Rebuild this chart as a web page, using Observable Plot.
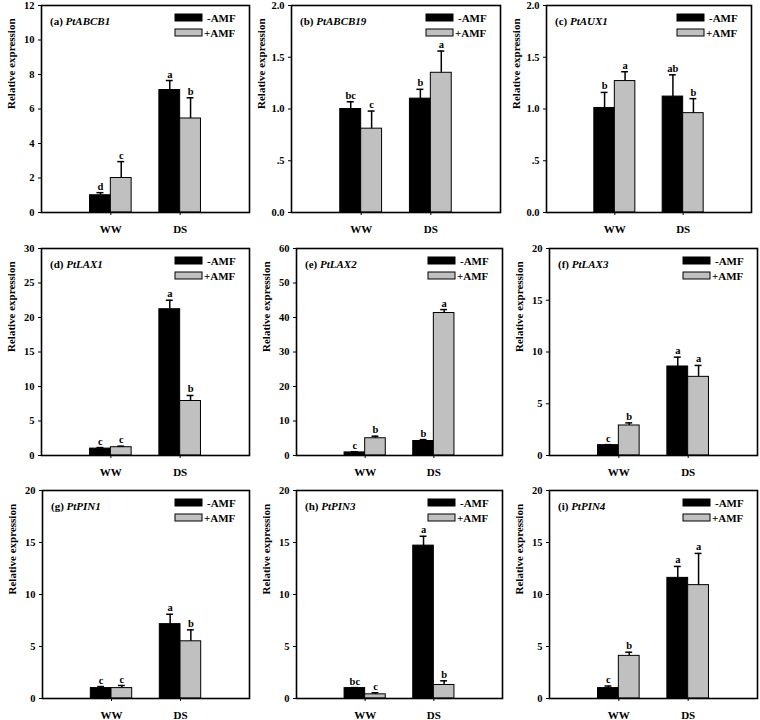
<!DOCTYPE html>
<html>
<head>
<meta charset="utf-8">
<script src="https://cdn.jsdelivr.net/npm/d3@7"></script>
<script src="https://cdn.jsdelivr.net/npm/@observablehq/plot@0.6"></script>
<style>
  body { margin: 0; background: white; }
  #chart { position: relative; width: 760px; height: 720px; background: white; overflow: hidden; }
  #chart svg { position: absolute; }
</style>
</head>
<body>
<div id="chart"></div>
<script>
// ---------------- data ----------------
const panelIds = ["(a)", "(b)", "(c)", "(d)", "(e)", "(f)", "(g)", "(h)", "(i)"];
const genes = ["PtABCB1", "PtABCB19", "PtAUX1", "PtLAX1", "PtLAX2", "PtLAX3", "PtPIN1", "PtPIN3", "PtPIN4"];
const groups = ["WW", "DS"];
const series = ["-AMF", "+AMF"];
const yLabel = "Relative expression";
const yMax = [12, 2, 2, 30, 60, 20, 20, 20, 20];
const yTicks = [
  [0, 2, 4, 6, 8, 10, 12],
  [0, 0.5, 1, 1.5, 2],
  [0, 0.5, 1, 1.5, 2],
  [0, 5, 10, 15, 20, 25, 30],
  [0, 10, 20, 30, 40, 50, 60],
  [0, 5, 10, 15, 20],
  [0, 5, 10, 15, 20],
  [0, 5, 10, 15, 20],
  [0, 5, 10, 15, 20]
];
const yTickLabels = [
  ["0", "2", "4", "6", "8", "10", "12"],
  ["0.0", ".5", "1.0", "1.5", "2.0"],
  ["0.0", ".5", "1.0", "1.5", "2.0"],
  ["0", "5", "10", "15", "20", "25", "30"],
  ["0", "10", "20", "30", "40", "50", "60"],
  ["0", "5", "10", "15", "20"],
  ["0", "5", "10", "15", "20"],
  ["0", "5", "10", "15", "20"],
  ["0", "5", "10", "15", "20"]
];
// means per gene: [WW, DS]
const meanMinusAMF = [[1.0, 7.1], [1.0, 1.10], [1.01, 1.12], [1.0, 21.2], [0.9, 4.2], [1.0, 8.6], [1.0, 7.15], [1.0, 14.7], [1.0, 11.6]];
const meanPlusAMF  = [[2.0, 5.45], [0.81, 1.35], [1.27, 0.96], [1.2, 7.9], [5.0, 41.3], [2.9, 7.6], [1.0, 5.5], [0.4, 1.3], [4.1, 10.9]];
// error (SD) per gene: [WW, DS]
const errMinusAMF = [[0.15, 0.55], [0.07, 0.09], [0.15, 0.21], [0.15, 1.3], [0.2, 0.4], [0.05, 0.9], [0.15, 0.95], [0.05, 0.9], [0.2, 1.1]];
const errPlusAMF  = [[0.95, 1.2], [0.17, 0.21], [0.09, 0.14], [0.15, 0.8], [0.6, 1.0], [0.25, 1.1], [0.25, 1.1], [0.15, 0.4], [0.35, 3.05]];
// significance letters per gene: [WW, DS]
const letterMinusAMF = [["d", "a"], ["bc", "b"], ["b", "ab"], ["c", "a"], ["c", "b"], ["c", "a"], ["c", "a"], ["bc", "a"], ["c", "a"]];
const letterPlusAMF  = [["c", "b"], ["c", "a"], ["a", "b"], ["c", "b"], ["b", "a"], ["b", "a"], ["c", "b"], ["c", "b"], ["b", "a"]];

// ---------------- layout (pixels) ----------------
const frames = [
  {L: 41, R: 249, T: 5, B: 212},
  {L: 291, R: 500, T: 5, B: 212},
  {L: 546, R: 751, T: 5, B: 212},
  {L: 41, R: 249, T: 248, B: 455},
  {L: 296, R: 502, T: 248, B: 455},
  {L: 549, R: 757, T: 248, B: 455},
  {L: 42, R: 249, T: 490, B: 698},
  {L: 296, R: 502, T: 490, B: 698},
  {L: 549, R: 757, T: 490, B: 698}
];
const colors = {"-AMF": "#000000", "+AMF": "#c0c0c0"};
const FONT = "'Liberation Serif', 'Times New Roman', serif";
const mL = 48, mR = 6, mT = 6, mB = 30;
const barW = 0.3;

const container = document.getElementById("chart");

genes.forEach((gene, p) => {
  const rows = [];
  groups.forEach((g, gi) => {
    rows.push({group: g, gi, series: "-AMF", si: 0, mean: meanMinusAMF[p][gi], err: errMinusAMF[p][gi], letter: letterMinusAMF[p][gi]});
    rows.push({group: g, gi, series: "+AMF", si: 1, mean: meanPlusAMF[p][gi], err: errPlusAMF[p][gi], letter: letterPlusAMF[p][gi]});
  });
  const x1 = d => d.gi + 1 + (d.si === 0 ? -barW : 0);
  const x2 = d => x1(d) + barW;
  const xc = d => x1(d) + barW / 2;
  const top = d => d.mean + d.err;

  const f = frames[p];
  const fw = f.R - f.L, fh = f.B - f.T;
  const svg = Plot.plot({
    width: mL + fw + mR,
    height: mT + fh + mB,
    marginLeft: mL, marginRight: mR, marginTop: mT, marginBottom: mB,
    style: {fontFamily: FONT, fontWeight: "bold", fontSize: "10px", color: "black", background: "transparent", overflow: "visible"},
    x: {domain: [0, 3]},
    y: {domain: [0, yMax[p]]},
    marks: [
      Plot.rectY(rows.filter(d => d.si === 0), {x1, x2, y1: 0, y2: "mean", fill: colors["-AMF"], stroke: "black", strokeWidth: 1}),
      Plot.rectY(rows.filter(d => d.si === 1), {x1, x2, y1: 0, y2: "mean", fill: colors["+AMF"], stroke: "black", strokeWidth: 1}),
      Plot.ruleX(rows, {x: xc, y1: "mean", y2: top, stroke: "black", strokeWidth: 1.5}),
      Plot.ruleY(rows, {y: top, x1: d => xc(d) - 0.05, x2: d => xc(d) + 0.05, stroke: "black", strokeWidth: 1.5}),
      Plot.text(rows, {x: xc, y: top, text: "letter", lineAnchor: "bottom", dy: -3, fontSize: 10.5, fontWeight: "bold"}),
      Plot.axisY({ticks: yTicks[p], tickFormat: (d, i) => yTickLabels[p][i], tickSize: 3, tickPadding: 4, label: null, fontSize: 10.5}),
      Plot.axisX({ticks: [1, 2], tickFormat: d => groups[d - 1], tickSize: 3, tickPadding: 10, label: null, fontSize: 11}),
      Plot.frame({stroke: "black", strokeWidth: 1.6}),
      Plot.text([yLabel], {frameAnchor: "left", text: d => d, rotate: -90, dx: -30, fontSize: 11, fontWeight: "bold"})
    ]
  });
  svg.style.left = (f.L - mL) + "px";
  svg.style.top = (f.T - mT) + "px";

  const s = d3.select(svg);
  // panel title
  const t = s.append("text")
    .attr("x", mL + 9).attr("y", mT + 20)
    .attr("text-anchor", "start")
    .attr("font-family", FONT).attr("font-weight", "bold").attr("font-size", 11).attr("fill", "black");
  t.append("tspan").text(panelIds[p] + " ");
  t.append("tspan").attr("font-style", "italic").text(gene);

  // legend
  const lg = s.append("g").attr("text-anchor", "start")
    .attr("font-family", FONT).attr("font-weight", "bold").attr("font-size", 11);
  series.forEach((name, i) => {
    const yy = mT + 9 + i * 15;
    lg.append("rect")
      .attr("x", mL + fw - 74).attr("y", yy).attr("width", 27).attr("height", 7)
      .attr("fill", colors[name]).attr("stroke", "black").attr("stroke-width", 1);
    lg.append("text")
      .attr("x", mL + fw - (name === "+AMF" ? 45 : 42)).attr("y", yy + 7.5)
      .attr("fill", "black").text(name);
  });

  container.appendChild(svg);
});
</script>
</body>
</html>
